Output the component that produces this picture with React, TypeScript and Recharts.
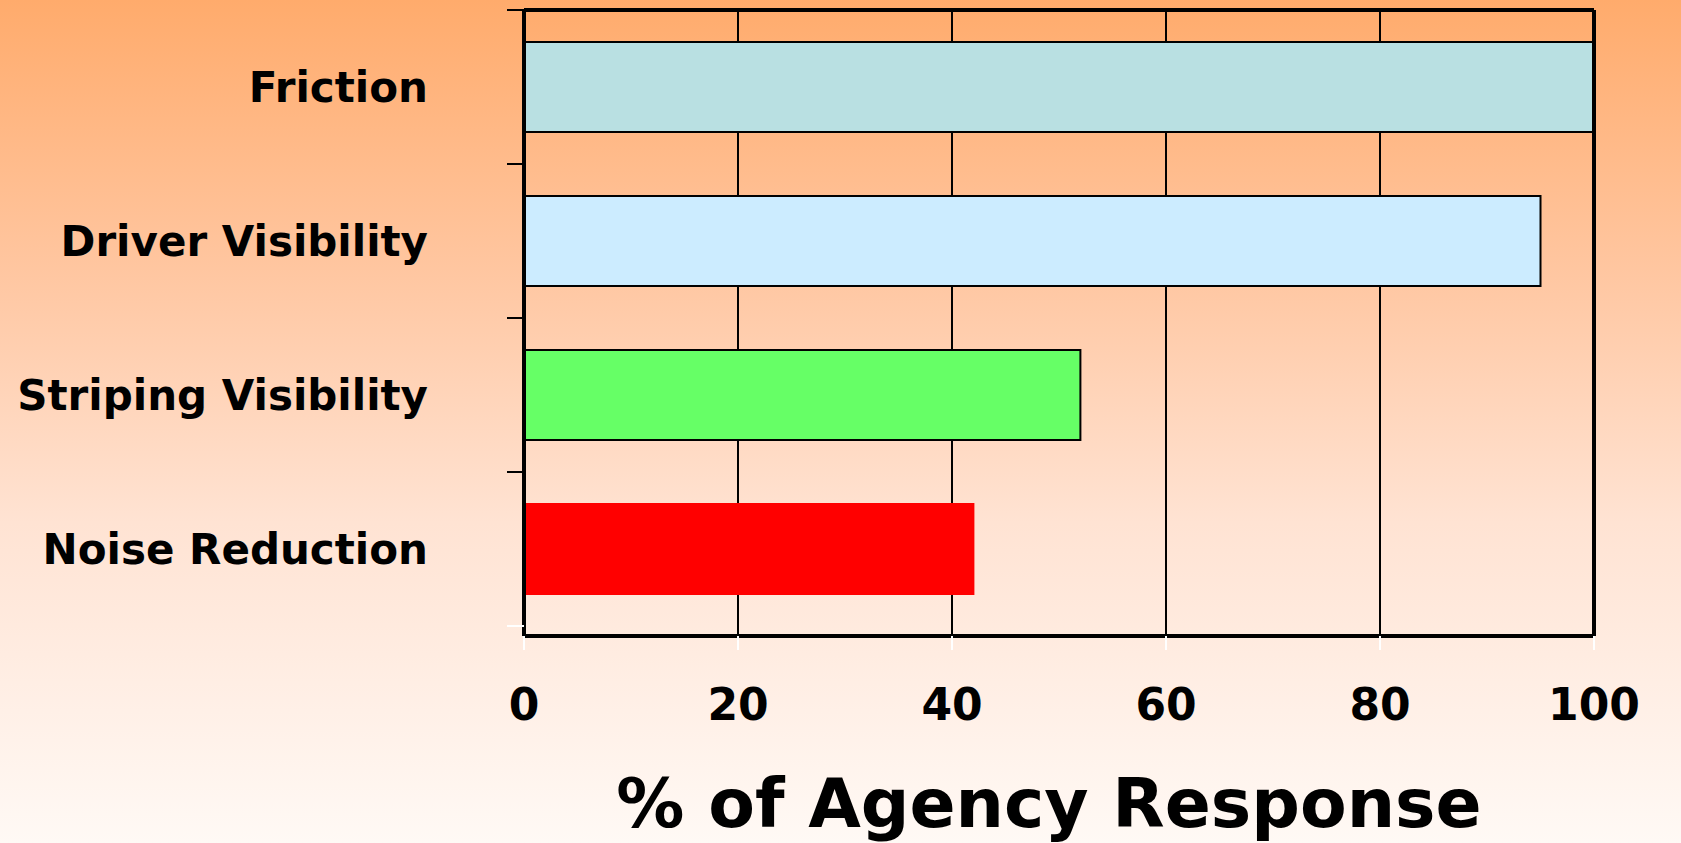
import { BarChart, Bar, XAxis, YAxis, CartesianGrid, Cell } from "recharts";

const categories = ["Friction", "Driver Visibility", "Striping Visibility", "Noise Reduction"];
const responsePct = [100, 95, 52, 42];
const barFills = ["#B9E0E2", "#CCECFF", "#66FF66", "#FF0000"];
const barOutlines = ["#000000", "#000000", "#000000", "#FF0000"];
const xTicks = [0, 20, 40, 60, 80, 100];

const FONT = "'DejaVu Sans', Verdana, sans-serif";
const FRAME = { stroke: "#000", strokeWidth: 4 };

const data = categories.map((name, i) => ({ name, value: responsePct[i] }));

// category label plus a short tick mark at the band boundary above it
function CategoryTick(props: any) {
  const { x, y, payload, index } = props;
  const half = payload?.offset ?? 77;
  const last = index === categories.length - 1;
  return (
    <g>
      <line x1={x - 17} x2={x} y1={y - half} y2={y - half} stroke="#000" strokeWidth={2} />
      {last && <line x1={x - 17} x2={x} y1={y + half} y2={y + half} stroke="#fff" strokeWidth={2} />}
      <text
        x={x - 96}
        y={y}
        dy="0.36em"
        textAnchor="end"
        fill="#000"
        fontFamily={FONT}
        fontWeight={700}
        fontSize={42}
      >
        {payload.value}
      </text>
    </g>
  );
}

function AxisTitle(props: any) {
  const { x, y, width, height } = props.viewBox;
  return (
    <text
      x={x + width / 2 - 10}
      y={y + height - 16}
      textAnchor="middle"
      fill="#000"
      fontFamily={FONT}
      fontWeight={700}
      fontSize={68}
    >
      % of Agency Response
    </text>
  );
}

export default function App() {
  return (
    <div
      style={{
        position: "absolute",
        left: 0,
        top: 0,
        width: 1681,
        height: 843,
        background:
          "linear-gradient(to bottom, #FFAB6C 0%, #FFC7A2 33%, #FFE3D3 62%, #FFF9F5 100%)",
      }}
    >
      <BarChart
        width={1681}
        height={843}
        data={data}
        layout="vertical"
        margin={{ top: 9, right: 86, bottom: 0, left: 0 }}
      >
        <CartesianGrid horizontal={false} stroke="#000" strokeWidth={2} />
        <XAxis
          type="number"
          domain={[0, 100]}
          ticks={xTicks}
          height={207}
          axisLine={FRAME}
          tickLine={{ stroke: "#fff", strokeWidth: 2 }}
          tickSize={14}
          tickMargin={39}
          tick={{ fill: "#000", fontSize: 44, fontWeight: 700, fontFamily: FONT }}
          label={<AxisTitle />}
        />
        {/* top edge of the frame */}
        <XAxis
          xAxisId="top"
          orientation="top"
          type="number"
          domain={[0, 100]}
          height={1}
          axisLine={FRAME}
          tick={false}
          tickLine={false}
        />
        <YAxis
          type="category"
          dataKey="name"
          width={524}
          interval={0}
          padding={{ top: 0, bottom: 10 }}
          axisLine={FRAME}
          tickLine={false}
          tickSize={0}
          tickMargin={0}
          tick={<CategoryTick />}
        />
        {/* right edge of the frame */}
        <YAxis
          yAxisId="right"
          orientation="right"
          type="category"
          dataKey="name"
          width={1}
          axisLine={FRAME}
          tick={false}
          tickLine={false}
        />
        <Bar dataKey="value" barSize={90} isAnimationActive={false}>
          {data.map((d, i) => (
            <Cell key={d.name} fill={barFills[i]} stroke={barOutlines[i]} strokeWidth={2} />
          ))}
        </Bar>
      </BarChart>
    </div>
  );
}
